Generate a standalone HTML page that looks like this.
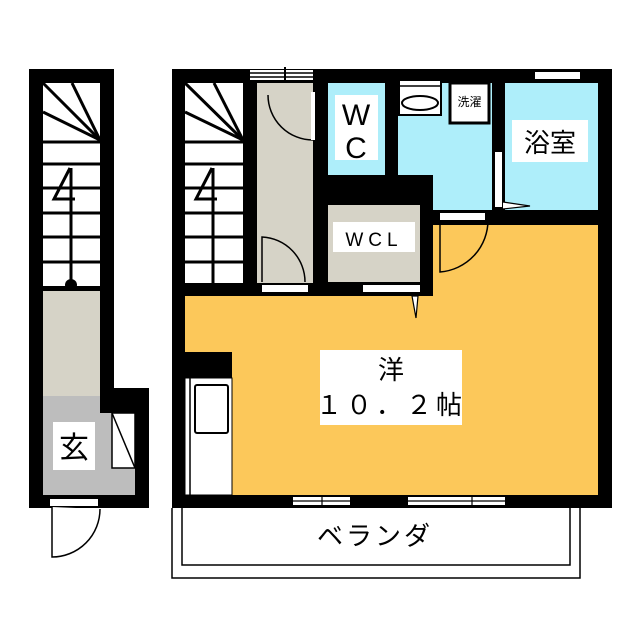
<!DOCTYPE html>
<html><head><meta charset="utf-8"><style>
html,body{margin:0;padding:0;background:#fff;}
svg{display:block}
text{font-family:"Liberation Sans","Noto Sans CJK JP",sans-serif;}
</style></head><body>
<svg width="640" height="640" viewBox="0 0 640 640" xmlns="http://www.w3.org/2000/svg">
<rect width="640" height="640" fill="#fff"/>
<!-- LEFT BUILDING -->
<rect x="29" y="69" width="85" height="439" fill="#000"/>
<rect x="100" y="388" width="49" height="120" fill="#000"/>
<rect x="43" y="83" width="57" height="205" fill="#fff"/>
<rect x="43" y="291" width="57" height="105" fill="#d6d3c7"/>
<rect x="43" y="396" width="92" height="99" fill="#bdbdbd"/>
<rect x="100" y="388" width="49" height="25" fill="#000"/>
<rect x="135" y="388" width="14" height="120" fill="#000"/>
<rect x="112" y="413" width="23" height="55" fill="#fff" stroke="#000" stroke-width="1.5"/>
<line x1="112" y1="413" x2="135" y2="468" stroke="#000" stroke-width="1.5"/>
<rect x="53" y="422" width="42" height="48" fill="#fff"/>
<text x="74" y="458" font-size="30" text-anchor="middle">玄</text>
<rect x="50" y="499" width="48" height="7" fill="#fff"/>
<path d="M52 507 L52 557 A48 48 0 0 0 100 509" fill="#fff" stroke="#000" stroke-width="1.5"/>
<!-- left stairs -->
<g stroke="#000" stroke-width="3" fill="none">
<line x1="43" y1="83" x2="100" y2="140"/>
<line x1="72" y1="83" x2="100" y2="140"/>
<line x1="43" y1="112" x2="100" y2="140"/>
<line x1="43" y1="142" x2="100" y2="142"/>
<line x1="43" y1="164" x2="100" y2="164"/>
<line x1="43" y1="188" x2="100" y2="188"/>
<line x1="43" y1="213" x2="100" y2="213"/>
<line x1="43" y1="237" x2="100" y2="237"/>
<line x1="43" y1="262" x2="100" y2="262"/>
<line x1="71" y1="168" x2="71" y2="285"/>
<path d="M70 168 L54 199 L75 199"/>
</g>
<rect x="43" y="286" width="57" height="5" fill="#000"/>
<circle cx="71" cy="285" r="6" fill="#000"/>

<!-- MAIN BUILDING -->
<rect x="172" y="69" width="440" height="439" fill="#000"/>
<rect x="185" y="83" width="58" height="200" fill="#fff"/>
<rect x="257" y="83" width="56" height="200" fill="#d6d3c7"/>
<rect x="250" y="70" width="63" height="10" fill="#fff"/>
<line x1="250" y1="73" x2="313" y2="73" stroke="#000" stroke-width="1.5"/>
<line x1="250" y1="77" x2="313" y2="77" stroke="#000" stroke-width="1.5"/>
<line x1="285" y1="67" x2="285" y2="82" stroke="#000" stroke-width="2"/>
<path d="M313 140 A45 45 0 0 1 268 95" fill="none" stroke="#000" stroke-width="1.5"/>
<rect x="311" y="92" width="4" height="48" fill="#fff"/>
<path d="M305 282 A45 45 0 0 0 262 237 L262 282" fill="none" stroke="#000" stroke-width="1.5"/>
<rect x="262" y="285" width="46" height="7" fill="#fff"/>
<!-- stair2 -->
<g stroke="#000" stroke-width="3" fill="none">
<line x1="185" y1="83" x2="243" y2="140"/>
<line x1="214" y1="83" x2="243" y2="140"/>
<line x1="185" y1="112" x2="243" y2="140"/>
<line x1="185" y1="142" x2="243" y2="142"/>
<line x1="185" y1="164" x2="243" y2="164"/>
<line x1="185" y1="188" x2="243" y2="188"/>
<line x1="185" y1="213" x2="243" y2="213"/>
<line x1="185" y1="237" x2="243" y2="237"/>
<line x1="185" y1="262" x2="243" y2="262"/>
<line x1="213" y1="168" x2="213" y2="283"/>
<path d="M212 168 L196 199 L217 199"/>
</g>
<!-- WC -->
<rect x="328" y="83" width="57" height="92" fill="#aeeefa"/>
<rect x="335" y="95" width="43" height="65" fill="#fff"/>
<text x="356" y="125" font-size="30" text-anchor="middle">W</text>
<text x="356" y="158" font-size="30" text-anchor="middle">C</text>
<!-- wash -->
<rect x="398" y="83" width="94" height="92" fill="#aeeefa"/>
<rect x="433" y="170" width="59" height="40" fill="#aeeefa"/>
<rect x="399" y="80" width="42" height="35" fill="#fff" stroke="#000" stroke-width="2"/>
<line x1="399" y1="86" x2="441" y2="86" stroke="#000" stroke-width="1.5"/>
<ellipse cx="420" cy="103" rx="18" ry="7" fill="none" stroke="#000" stroke-width="2"/>
<rect x="450" y="83" width="39" height="40" fill="#fff" stroke="#000" stroke-width="3"/>
<text x="469.5" y="106" font-size="12" text-anchor="middle">洗濯</text>
<!-- bath -->
<rect x="505" y="83" width="93" height="127" fill="#aeeefa"/>
<rect x="535" y="72" width="45" height="7" fill="#fff"/>
<rect x="512" y="120" width="76" height="42" fill="#fff"/>
<text x="550" y="152" font-size="26" text-anchor="middle">浴室</text>
<rect x="495" y="152" width="7" height="55" fill="#fff"/>
<path d="M503 202 L530 206 L503 209" fill="#fff" stroke="#000" stroke-width="1.2"/>
<!-- WCL -->
<rect x="328" y="205" width="92" height="77" fill="#d6d3c7"/>
<rect x="333" y="222" width="82" height="30" fill="#fff"/>
<text x="374" y="246" font-size="19" text-anchor="middle" letter-spacing="5">WCL</text>
<rect x="363" y="285" width="57" height="7" fill="#fff"/>
<!-- LDK -->
<rect x="185" y="296" width="413" height="199" fill="#fcc85a"/>
<rect x="433" y="225" width="165" height="72" fill="#fcc85a"/>
<rect x="440" y="213" width="45" height="7" fill="#fff"/>
<path d="M440 220 L440 272 A52 52 0 0 0 488 220" fill="none" stroke="#000" stroke-width="1.5"/>
<path d="M412 296 L418 296 L416 318 Z" fill="#fff" stroke="#000" stroke-width="1.2"/>
<!-- kitchen -->
<rect x="185" y="352" width="47" height="26" fill="#000"/>
<rect x="185" y="378" width="47" height="117" fill="#fff" stroke="#000" stroke-width="1"/>
<line x1="190" y1="378" x2="190" y2="495" stroke="#000" stroke-width="1.5"/>
<rect x="195" y="385" width="33" height="48" rx="2" fill="#fff" stroke="#000" stroke-width="2"/>
<!-- label -->
<rect x="320" y="350" width="142" height="75" fill="#fff"/>
<text x="391" y="379" font-size="26" text-anchor="middle">洋</text>
<text x="391" y="414" font-size="26" text-anchor="middle" letter-spacing="4">１０．２帖</text>
<!-- bottom windows -->
<g>
<rect x="293" y="497" width="57" height="8" fill="#fff"/>
<rect x="408" y="497" width="97" height="8" fill="#fff"/>
<g stroke="#000" stroke-width="1.2">
<line x1="293" y1="501" x2="350" y2="501"/>
<line x1="408" y1="501" x2="505" y2="501"/>
<line x1="322" y1="495" x2="322" y2="508"/>
<line x1="472" y1="495" x2="472" y2="508"/>
</g>
</g>
<!-- veranda -->
<path d="M172 508 L172 578 L580 578 L580 508" fill="none" stroke="#000" stroke-width="1.5"/>
<path d="M182 508 L182 565 L570 565 L570 508" fill="none" stroke="#000" stroke-width="1.5"/>
<text x="375" y="545" font-size="26" text-anchor="middle" letter-spacing="3">ベランダ</text>
</svg>
</body></html>
